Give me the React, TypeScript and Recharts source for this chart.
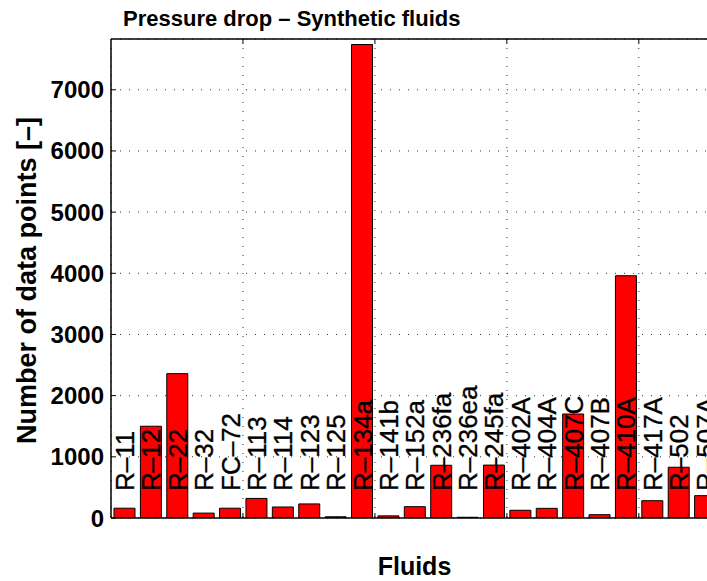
import React from 'react';
import {
  BarChart,
  Bar,
  XAxis,
  YAxis,
  CartesianGrid,
  LabelList,
  ReferenceLine,
} from 'recharts';

const fluids = [
  'R–11', 'R–12', 'R–22', 'R–32', 'FC–72', 'R–113', 'R–114', 'R–123',
  'R–125', 'R–134a', 'R–141b', 'R–152a', 'R–236fa', 'R–236ea', 'R–245fa',
  'R–402A', 'R–404A', 'R–407C', 'R–407B', 'R–410A', 'R–417A', 'R–502', 'R–507A',
];

const dataPoints = [
  160, 1500, 2360, 80, 160, 320, 180, 230,
  20, 7740, 35, 185, 862, 12, 865,
  126, 158, 1700, 54, 3960, 283, 830, 365,
];

const yTicks = [0, 1000, 2000, 3000, 4000, 5000, 6000, 7000];
const xGridTicks = [5.5, 10.5, 15.5, 20.5];
const Y_MAX = 7830;

const chartData = fluids.map((name, i) => ({ idx: i + 1, name, count: dataPoints[i] }));

const FONT = '"Liberation Sans", Arial, Helvetica, sans-serif';

// rotated fluid names, sitting just above the zero line
const renderFluidLabel = (props: any) => {
  const { x, y, width, height, value } = props;
  const bx = Number(x) + Number(width) / 2 + 9.5;
  const by = Number(y) + Number(height) - 27;
  return (
    <text
      x={bx}
      y={by}
      transform={`rotate(-90, ${bx}, ${by})`}
      textAnchor="start"
      fontFamily={FONT}
      fontSize={26}
      fill="#000"
      stroke="#000"
      strokeWidth={0.35}
    >
      {value}
    </text>
  );
};

const YTick = (props: any) => {
  const { x, y, payload } = props;
  return (
    <g>
      <line x1={x + 7} y1={y} x2={x + 12} y2={y} stroke="#000" strokeWidth={1} />
      <text
        x={x}
        y={y}
        dy={8.5}
        textAnchor="end"
        fontFamily={FONT}
        fontWeight="bold"
        fontSize={24}
        fill="#000"
      >
        {payload.value}
      </text>
    </g>
  );
};

const XTick = (props: any) => {
  const { x, y } = props;
  return (
    <g>
      <line x1={x} y1={y} x2={x} y2={y - 5} stroke="#000" strokeWidth={1} />
      <line x1={x} y1={39} x2={x} y2={44} stroke="#000" strokeWidth={1} />
    </g>
  );
};

const App = () => {
  return (
    <div
      style={{
        position: 'absolute',
        left: 0,
        top: 0,
        width: 707,
        height: 581,
        overflow: 'hidden',
        background: '#fff',
      }}
    >
      <div
        style={{
          position: 'absolute',
          left: 123,
          top: 8,
          fontFamily: FONT,
          fontWeight: 'bold',
          fontSize: 22,
          lineHeight: '22px',
          whiteSpace: 'nowrap',
          color: '#000',
        }}
      >
        Pressure drop – Synthetic fluids
      </div>
      <BarChart
        width={730}
        height={581}
        data={chartData}
        margin={{ top: 39, right: 12, bottom: 0, left: 0 }}
      >
        <CartesianGrid stroke="#333" strokeDasharray="1 8" />
        <XAxis
          dataKey="idx"
          type="number"
          domain={[0.5, 23.5]}
          ticks={xGridTicks}
          height={63}
          tickSize={0}
          tickMargin={0}
          tickLine={false}
          tick={<XTick />}
          axisLine={{ stroke: '#000', strokeWidth: 1.5 }}
          label={{
            content: (p: any) => {
              const vb = p.viewBox;
              return (
                <text
                  x={vb.x + vb.width / 2}
                  y={575}
                  textAnchor="middle"
                  fontFamily={FONT}
                  fontWeight="bold"
                  fontSize={25}
                  fill="#000"
                >
                  Fluids
                </text>
              );
            },
          }}
        />
        <YAxis
          type="number"
          domain={[0, Y_MAX]}
          ticks={yTicks}
          width={111}
          tickSize={0}
          tickMargin={7}
          tickLine={false}
          tick={<YTick />}
          axisLine={{ stroke: '#000', strokeWidth: 1.5 }}
          allowDataOverflow
          label={{
            content: (p: any) => {
              const vb = p.viewBox;
              const lx = 36;
              const ly = vb.y + vb.height / 2 + 2;
              return (
                <text
                  x={lx}
                  y={ly}
                  transform={`rotate(-90, ${lx}, ${ly})`}
                  textAnchor="middle"
                  fontFamily={FONT}
                  fontWeight="bold"
                  fontSize={27}
                  fill="#000"
                >
                  Number of data points [–]
                </text>
              );
            },
          }}
        />
        <ReferenceLine y={Y_MAX} stroke="#000" strokeWidth={1.5} />
        <Bar
          dataKey="count"
          fill="#ff0000"
          stroke="#000"
          strokeWidth={1}
          barSize={21}
          isAnimationActive={false}
        >
          <LabelList dataKey="name" content={renderFluidLabel} />
        </Bar>
      </BarChart>
    </div>
  );
};

export default App;
